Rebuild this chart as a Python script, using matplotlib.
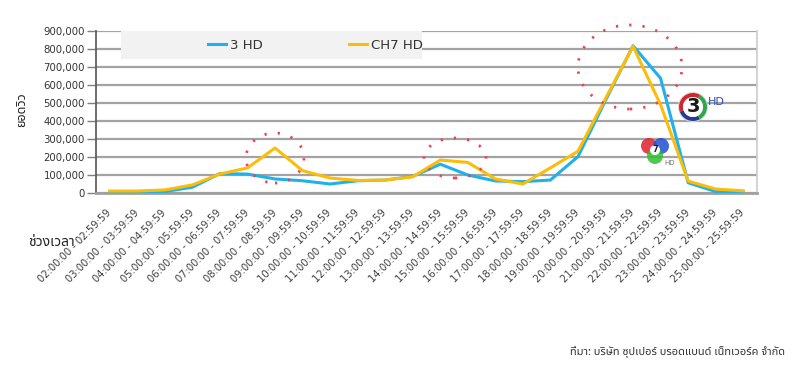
import matplotlib
matplotlib.use('Agg')
import matplotlib.pyplot as plt
from matplotlib import font_manager
from matplotlib.patches import Ellipse, Circle, Rectangle, Wedge
from matplotlib.ticker import FuncFormatter

# pick a Thai capable font
names = set(f.name for f in font_manager.fontManager.ttflist)
thai = 'DejaVu Sans'
for n in ['Noto Sans Thai', 'Noto Sans Thai UI', 'Sarabun', 'Prompt', 'Kanit', 'Bai Jamjuree']:
    if n in names:
        thai = n
        break
plt.rcParams['font.family'] = ['DejaVu Sans', thai]

hours = list(range(2, 26))
labels = ['%02d:00:00 - %02d:59:59' % (h, h) for h in hours]

ch3_hd = [5000, 6000, 8000, 32000, 108000, 105000, 78000, 68000, 50000, 68000, 72000, 92000,
          160000, 100000, 67000, 63000, 72000, 202000, 515000, 818000, 637000, 57000, 8000, 5000]
ch7_hd = [11000, 11000, 17000, 45000, 106000, 139000, 250000, 124000, 83000, 70000, 72000, 90000,
          183000, 170000, 78000, 50000, 140000, 232000, 525000, 815000, 490000, 66000, 22000, 12000]

fig = plt.figure(figsize=(8, 3.76), dpi=100)
ax = fig.add_axes([96 / 800, 1 - 193 / 376, 661 / 800, 162 / 376])

x = range(len(labels))
ax.plot(x, ch3_hd, color='#1fb1ec', lw=2.2, label='3 HD', zorder=3)
ax.plot(x, ch7_hd, color='#fbbd08', lw=2.2, label='CH7 HD', zorder=3)

ax.set_xlim(-0.5, len(labels) - 0.5)
ax.set_ylim(0, 900000)
ax.set_yticks(range(0, 900001, 100000))
ax.yaxis.set_major_formatter(FuncFormatter(lambda v, p: '{:,.0f}'.format(v)))
ax.grid(axis='y', color='#a3a3a3', lw=1.6)
ax.set_axisbelow(True)
ax.tick_params(axis='y', length=6.5, width=1, color='#808080', pad=1.5, labelsize=7.3, labelcolor='#333333')

ax.set_xticks(list(x))
ax.set_xticklabels(labels, rotation=45, ha='right', va='center', rotation_mode='anchor',
                   fontsize=7.2, color='#404040')
ax.tick_params(axis='x', length=0, pad=13)

ax.spines['top'].set_visible(False)
ax.spines['left'].set_color('#555555')
ax.spines['left'].set_linewidth(1.2)
ax.spines['bottom'].set_color('#a0a0a0')
ax.spines['bottom'].set_linewidth(2)
ax.spines['right'].set_color('#cccccc')
ax.spines['right'].set_linewidth(1.2)

# gray legend box
ax.add_patch(Rectangle((0.038, 0.825), 0.455, 0.178, transform=ax.transAxes,
                       facecolor='#f2f2f2', edgecolor='none', zorder=1, clip_on=False))
leg = ax.legend(loc='center right', bbox_to_anchor=(0.495, 0.912), ncol=2, frameon=False,
                fontsize=9.5, handlelength=1.4, handletextpad=0.3, columnspacing=6.5,
                borderpad=0, borderaxespad=0)
for t in leg.get_texts():
    t.set_color('#333333')

# red dotted highlight circles (figure inches)
for cx, cy, w, h in [(275, 158, 58, 50), (455, 158, 62, 40), (630, 67, 104, 84)]:
    fig.add_artist(Ellipse((cx / 100, (376 - cy) / 100), w / 100, h / 100,
                           transform=fig.dpi_scale_trans, fill=False, edgecolor='#f04050',
                           lw=2, linestyle=(0, (0.8, 4))))

# channel 3 HD logo (rough)
c3 = (693 / 100, (376 - 107) / 100)
fig.add_artist(Circle(c3, 15 / 100, transform=fig.dpi_scale_trans, facecolor='#d8d8d8', edgecolor='none'))
for t1, t2, c in [(60, 200, '#d3262f'), (200, 300, '#2a3b8f'), (300, 420, '#2ea84a')]:
    fig.add_artist(Wedge(c3, 14 / 100, t1, t2, width=4 / 100, transform=fig.dpi_scale_trans,
                         facecolor=c, edgecolor='none'))
fig.add_artist(Circle(c3, 10 / 100, transform=fig.dpi_scale_trans, facecolor='white', edgecolor='none'))
fig.text(693 / 800, 1 - 107 / 376, '3', fontsize=14, fontweight='bold', color='#1a1a1a',
         ha='center', va='center')
fig.text(708 / 800, 1 - 102 / 376, 'HD', fontsize=8, color='#2a4fb0', ha='left', va='center')

# channel 7 HD logo (rough)
for cx, cy, c in [(649, 146, '#e02030'), (661, 146, '#2050d0'), (655, 156, '#30c030')]:
    fig.add_artist(Circle((cx / 100, (376 - cy) / 100), 8 / 100, transform=fig.dpi_scale_trans,
                          facecolor=c, edgecolor='none', alpha=0.85))
fig.add_artist(Circle((655 / 100, (376 - 150) / 100), 5 / 100, transform=fig.dpi_scale_trans,
                      facecolor='white', edgecolor='none'))
fig.text(655 / 800, 1 - 150 / 376, '7', fontsize=6, fontweight='bold', color='#222222',
         ha='center', va='center')
fig.text(670 / 800, 1 - 163 / 376, 'HD', fontsize=5, color='#777777', ha='center', va='center')

# Thai texts
fig.text(22 / 800, 1 - 110 / 376, 'ยอดวิว', rotation=90, fontsize=9, fontweight='bold',
         family=[thai, 'DejaVu Sans'], ha='center', va='center', color='#222222')
fig.text(28 / 800, 1 - 243 / 376, 'ช่วงเวลา', fontsize=10, fontweight='bold',
         family=[thai, 'DejaVu Sans'], ha='left', va='center', color='#222222')
fig.text(785 / 800, 1 - 352 / 376, 'ที่มา: บริษัท ซุปเปอร์ บรอดแบนด์ เน็ทเวอร์ค จำกัด', fontsize=8,
         family=[thai, 'DejaVu Sans'], ha='right', va='center', color='#333333')

fig.savefig('out.png', dpi=100)
